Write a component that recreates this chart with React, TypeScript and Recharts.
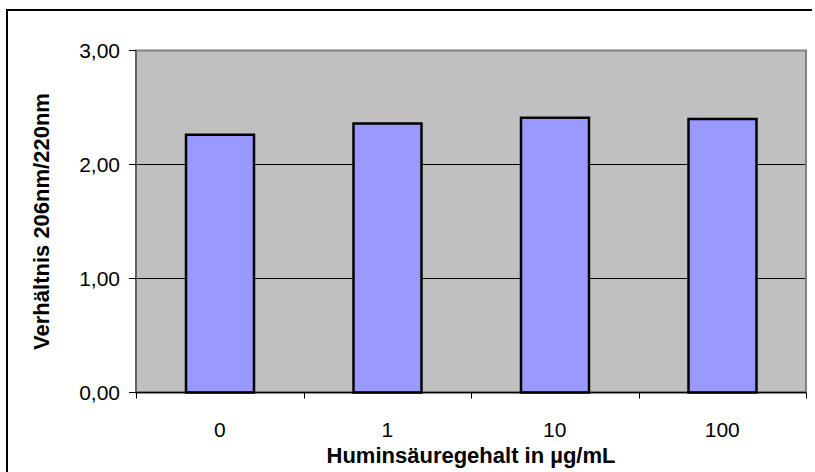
import React from 'react';
import {
  BarChart,
  Bar,
  XAxis,
  YAxis,
  CartesianGrid,
  ReferenceArea,
} from 'recharts';

const categories = ['0', '1', '10', '100'];
const ratios = [2.26, 2.36, 2.41, 2.4];
const yTicks = [0, 1, 2, 3];

const data = categories.map((name, i) => ({ name, ratio: ratios[i] }));

const FONT = '"Liberation Sans", Arial, sans-serif';

const fmt = (v: number) => v.toFixed(2).replace('.', ',');

const YLabel = ({ viewBox }: any) => {
  const x = viewBox.x + 41;
  const y = viewBox.y + viewBox.height / 2;
  return (
    <text
      x={x}
      y={y}
      transform={`rotate(-90, ${x}, ${y})`}
      textAnchor="middle"
      dominantBaseline="central"
      fontFamily={FONT}
      fontSize={22}
      fontWeight="bold"
      fill="#000"
    >
      Verhältnis 206nm/220nm
    </text>
  );
};

// category label plus tick marks on the category boundaries (Excel style)
const CatTick = (props: any) => {
  const { x, y, payload, index, visibleTicksCount } = props;
  const half = payload?.offset || 670 / 8;
  const axisY = y - 30;
  const left = Math.round(x - half) + 0.5;
  const right = Math.round(x + half) + 0.5;
  return (
    <g>
      <line x1={left} x2={left} y1={axisY} y2={axisY + 6} stroke="#000" />
      {index === visibleTicksCount - 1 && (
        <line x1={right} x2={right} y1={axisY} y2={axisY + 6} stroke="#000" />
      )}
      <text
        x={x}
        y={y}
        dy="0.71em"
        textAnchor="middle"
        fontFamily={FONT}
        fontSize={21}
        fill="#000"
      >
        {payload.value}
      </text>
    </g>
  );
};

const App: React.FC = () => {
  return (
    <div style={{ position: 'absolute', left: 0, top: 0, width: 815, height: 472, background: '#fff' }}>
      <div
        style={{
          position: 'absolute',
          left: 6,
          top: 9,
          width: 804,
          height: 470,
          borderTop: '2px solid #000',
          borderLeft: '2px solid #000',
        }}
      />
      <BarChart
        width={815}
        height={472}
        data={data}
        margin={{ top: 50.5, right: 9, left: 0, bottom: 0 }}
        style={{ position: 'absolute', left: 0, top: 0 }}
      >
        <CartesianGrid
          vertical={false}
          stroke="#000"
          fill="#C0C0C0"
          fillOpacity={1}
        />
        <ReferenceArea y1={0} y2={3} fill="none" stroke="#808080" strokeWidth={2} />
        <XAxis
          dataKey="name"
          height={79.5}
          tickLine={false}
          tickSize={0}
          tickMargin={30}
          axisLine={{ stroke: '#000', strokeWidth: 1.5 }}
          tick={<CatTick />}
          label={{
            value: 'Huminsäuregehalt in µg/mL',
            position: 'insideBottom',
            offset: 9,
            fill: '#000',
            fontSize: 22,
            fontWeight: 'bold',
            fontFamily: FONT,
          }}
        />
        <YAxis
          width={136}
          domain={[0, 3]}
          ticks={yTicks}
          tickFormatter={fmt}
          tickSize={7}
          tickMargin={9}
          axisLine={{ stroke: '#606060', strokeWidth: 2 }}
          tickLine={{ stroke: '#000' }}
          tick={{ fill: '#000', fontSize: 21, fontFamily: FONT }}
          label={<YLabel />}
        />
        <Bar
          dataKey="ratio"
          fill="#9999FF"
          stroke="#000"
          strokeWidth={2.5}
          barSize={68}
          isAnimationActive={false}
        />
      </BarChart>
    </div>
  );
};

export default App;
